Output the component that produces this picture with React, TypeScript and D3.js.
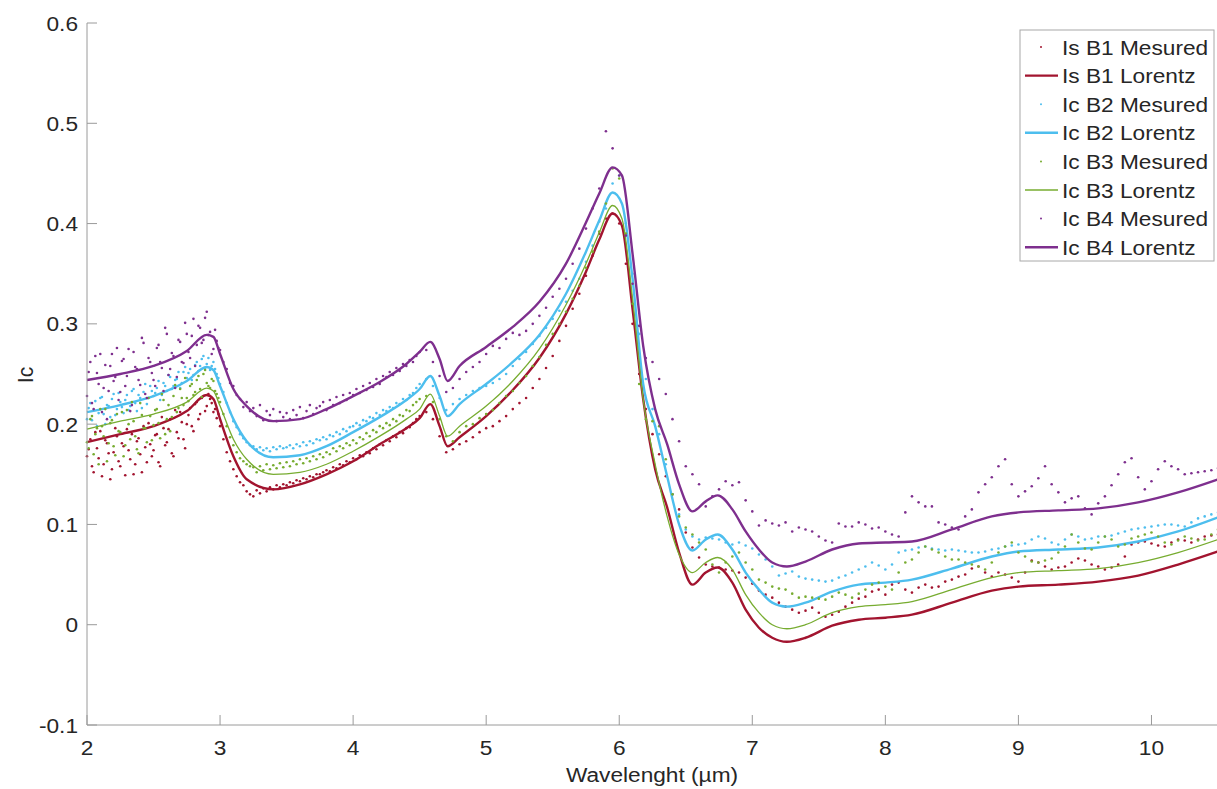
import React from "react";
import * as d3 from "d3";

// ---------------- DATA ----------------
const xTicks = [2, 3, 4, 5, 6, 7, 8, 9, 10];
const yTicks = [-0.1, 0, 0.1, 0.2, 0.3, 0.4, 0.5, 0.6];
const yTickLabels = ["-0.1", "0", "0.1", "0.2", "0.3", "0.4", "0.5", "0.6"];

// Measured wavelengths: 2.000..4.500 step 0.025 (101), then 4.55..10.50 step 0.05 (120)
const measuredX: number[] = [
  ...d3.range(101).map((i) => 2 + i * 0.025),
  ...d3.range(120).map((i) => 4.55 + i * 0.05),
];
// Extra measured samples in the dense short-wavelength region: 2.0125..2.9875 step 0.025 (40)
const measuredXExtra: number[] = d3.range(40).map((i) => 2.0125 + i * 0.025);

const b1Measured = [
  0.168, 0.185, 0.152, 0.176, 0.193, 0.160, 0.181, 0.145, 0.172, 0.188,
  0.158, 0.178, 0.195, 0.165, 0.150, 0.183, 0.170, 0.198, 0.162, 0.180,
  0.174, 0.190, 0.158, 0.196, 0.182, 0.205, 0.168, 0.192, 0.212, 0.185,
  0.200, 0.216, 0.193, 0.222, 0.210, 0.228, 0.218, 0.225, 0.212, 0.206,
  0.198, 0.185, 0.172, 0.163, 0.155, 0.148, 0.142, 0.139, 0.133, 0.130,
  0.128, 0.134, 0.131, 0.136, 0.133, 0.137, 0.135, 0.139, 0.137, 0.140,
  0.139, 0.142, 0.141, 0.144, 0.143, 0.146, 0.145, 0.148, 0.147, 0.150,
  0.150, 0.152, 0.154, 0.153, 0.157, 0.156, 0.160, 0.159, 0.163, 0.162,
  0.166, 0.165, 0.169, 0.168, 0.172, 0.171, 0.176, 0.175, 0.180, 0.179,
  0.184, 0.183, 0.188, 0.187, 0.192, 0.191, 0.196, 0.197, 0.201, 0.205,
  0.208,
  0.212, 0.205, 0.188, 0.172, 0.175, 0.180, 0.183, 0.187, 0.192, 0.196,
  0.198, 0.203, 0.208, 0.215, 0.221, 0.226, 0.236, 0.245, 0.256, 0.268,
  0.283, 0.298, 0.315, 0.330, 0.348, 0.368, 0.390, 0.405, 0.410, 0.400,
  0.360, 0.300, 0.250, 0.215, 0.190, 0.170, 0.148, 0.130, 0.115, 0.092,
  0.077, 0.067, 0.060, 0.058, 0.057, 0.055, 0.054, 0.052, 0.047, 0.041,
  0.034, 0.030, 0.027, 0.022, 0.018, 0.015, 0.012, 0.014, 0.017, 0.012,
  0.008, 0.010, 0.013, 0.018, 0.022, 0.026, 0.028, 0.033, 0.035, 0.030,
  0.040, 0.042, 0.035, 0.032, 0.037, 0.040, 0.037, 0.038, 0.043, 0.045,
  0.048, 0.050, 0.056, 0.058, 0.052, 0.048, 0.052, 0.050, 0.047, 0.043,
  0.052, 0.064, 0.062, 0.058, 0.055, 0.057, 0.058, 0.062, 0.066, 0.064,
  0.060, 0.058, 0.055, 0.057, 0.060, 0.068, 0.080, 0.082, 0.083, 0.081,
  0.079, 0.078, 0.082, 0.085, 0.084, 0.082, 0.085, 0.088, 0.089, 0.090,
];
const b1MeasuredExtra = [
  0.175, 0.158, 0.192, 0.166, 0.148, 0.184, 0.171, 0.155, 0.196, 0.163,
  0.181, 0.149, 0.174, 0.190, 0.160, 0.186, 0.152, 0.177, 0.201, 0.168,
  0.189, 0.162, 0.207, 0.179, 0.195, 0.171, 0.214, 0.186, 0.202, 0.176,
  0.209, 0.198, 0.220, 0.205, 0.226, 0.213, 0.230, 0.221, 0.215, 0.210,
];

const b2Measured = [
  0.205, 0.221, 0.214, 0.198, 0.226, 0.210, 0.219, 0.207, 0.230, 0.215,
  0.222, 0.211, 0.229, 0.218, 0.235, 0.213, 0.226, 0.232, 0.220, 0.238,
  0.228, 0.236, 0.224, 0.241, 0.233, 0.247, 0.238, 0.245, 0.236, 0.252,
  0.246, 0.255, 0.249, 0.262, 0.258, 0.268, 0.260, 0.254, 0.262, 0.250,
  0.240, 0.232, 0.221, 0.212, 0.203, 0.197, 0.190, 0.186, 0.182, 0.179,
  0.178, 0.175, 0.177, 0.174, 0.176, 0.173, 0.177, 0.175, 0.178, 0.176,
  0.177, 0.179, 0.176, 0.180, 0.178, 0.182, 0.179, 0.183, 0.181, 0.185,
  0.184, 0.187, 0.185, 0.189, 0.188, 0.192, 0.190, 0.195, 0.193, 0.197,
  0.198, 0.201, 0.199, 0.204, 0.203, 0.207, 0.206, 0.211, 0.209, 0.214,
  0.213, 0.217, 0.216, 0.221, 0.220, 0.225, 0.224, 0.229, 0.231, 0.236,
  0.240,
  0.245, 0.238, 0.226, 0.214, 0.220, 0.225, 0.229, 0.233, 0.236, 0.238,
  0.241, 0.245, 0.250, 0.258, 0.265, 0.272, 0.280, 0.288, 0.296, 0.305,
  0.313, 0.322, 0.333, 0.345, 0.362, 0.378, 0.402, 0.415, 0.440, 0.448,
  0.400, 0.350, 0.290, 0.245, 0.215, 0.190, 0.160, 0.130, 0.110, 0.095,
  0.088, 0.085, 0.087, 0.086, 0.085, 0.082, 0.080, 0.082, 0.079, 0.076,
  0.070, 0.065, 0.058, 0.049, 0.051, 0.053, 0.048, 0.046, 0.045, 0.044,
  0.043, 0.044, 0.047, 0.049, 0.052, 0.055, 0.058, 0.062, 0.059, 0.055,
  0.060, 0.072, 0.074, 0.075, 0.077, 0.078, 0.076, 0.075, 0.074, 0.075,
  0.074, 0.073, 0.072, 0.072, 0.073, 0.075, 0.076, 0.078, 0.079, 0.080,
  0.081, 0.085, 0.088, 0.086, 0.082, 0.080, 0.085, 0.090, 0.088, 0.085,
  0.086, 0.088, 0.088, 0.089, 0.091, 0.093, 0.095, 0.096, 0.097, 0.098,
  0.099, 0.100, 0.100, 0.099, 0.098, 0.102, 0.106, 0.108, 0.110, 0.112,
];
const b2MeasuredExtra = [
  0.216, 0.204, 0.223, 0.211, 0.227, 0.200, 0.218, 0.225, 0.209, 0.231,
  0.217, 0.224, 0.214, 0.233, 0.221, 0.229, 0.216, 0.240, 0.226, 0.233,
  0.231, 0.243, 0.229, 0.238, 0.249, 0.235, 0.244, 0.252, 0.241, 0.257,
  0.251, 0.244, 0.259, 0.253, 0.265, 0.256, 0.266, 0.258, 0.255, 0.246,
];

const b3Measured = [
  0.182, 0.205, 0.170, 0.196, 0.215, 0.188, 0.163, 0.201, 0.178, 0.210,
  0.192, 0.168, 0.214, 0.185, 0.203, 0.175, 0.221, 0.196, 0.182, 0.208,
  0.199, 0.215, 0.186, 0.224, 0.205, 0.193, 0.228, 0.212, 0.235, 0.219,
  0.226, 0.238, 0.229, 0.244, 0.235, 0.250, 0.241, 0.236, 0.243, 0.230,
  0.222, 0.210, 0.198, 0.187, 0.179, 0.172, 0.166, 0.163, 0.160, 0.158,
  0.157, 0.152, 0.158, 0.154, 0.160, 0.155, 0.159, 0.156, 0.161, 0.157,
  0.162, 0.158, 0.163, 0.160, 0.165, 0.161, 0.166, 0.163, 0.168, 0.165,
  0.170, 0.167, 0.172, 0.170, 0.176, 0.173, 0.178, 0.176, 0.181, 0.179,
  0.184, 0.181, 0.187, 0.185, 0.191, 0.188, 0.194, 0.192, 0.198, 0.196,
  0.201, 0.199, 0.205, 0.203, 0.209, 0.208, 0.214, 0.213, 0.219, 0.222,
  0.225,
  0.228, 0.222, 0.205, 0.188, 0.183, 0.192, 0.198, 0.200, 0.206, 0.210,
  0.214, 0.221, 0.228, 0.233, 0.241, 0.248, 0.258, 0.267, 0.279, 0.290,
  0.300, 0.312, 0.325, 0.338, 0.356, 0.372, 0.392, 0.420, 0.455, 0.445,
  0.390, 0.320, 0.240, 0.205, 0.203, 0.198, 0.165, 0.130, 0.108, 0.097,
  0.090, 0.082, 0.075, 0.060, 0.052, 0.062, 0.068, 0.072, 0.062, 0.055,
  0.045, 0.042, 0.038, 0.036, 0.035, 0.031, 0.027, 0.028, 0.027, 0.026,
  0.025, 0.028, 0.032, 0.030, 0.027, 0.031, 0.035, 0.040, 0.042, 0.038,
  0.035, 0.052, 0.062, 0.065, 0.072, 0.078, 0.075, 0.072, 0.068, 0.065,
  0.065, 0.062, 0.060, 0.058, 0.055, 0.062, 0.072, 0.078, 0.082, 0.072,
  0.068, 0.063, 0.062, 0.064, 0.066, 0.072, 0.078, 0.090, 0.082, 0.076,
  0.075, 0.082, 0.088, 0.085, 0.078, 0.080, 0.086, 0.088, 0.090, 0.092,
  0.088, 0.082, 0.080, 0.084, 0.088, 0.086, 0.084, 0.085, 0.090, 0.095,
];
const b3MeasuredExtra = [
  0.176, 0.208, 0.190, 0.160, 0.198, 0.215, 0.181, 0.204, 0.169, 0.193,
  0.212, 0.179, 0.200, 0.222, 0.188, 0.171, 0.209, 0.196, 0.226, 0.184,
  0.214, 0.201, 0.230, 0.190, 0.219, 0.207, 0.239, 0.216, 0.226, 0.246,
  0.223, 0.240, 0.232, 0.248, 0.227, 0.254, 0.238, 0.245, 0.233, 0.226,
];

const b4Measured = [
  0.228, 0.262, 0.215, 0.251, 0.270, 0.236, 0.205, 0.258, 0.243, 0.276,
  0.232, 0.265, 0.248, 0.213, 0.272, 0.255, 0.239, 0.281, 0.226, 0.262,
  0.244, 0.276, 0.262, 0.233, 0.290, 0.255, 0.268, 0.247, 0.282, 0.261,
  0.290, 0.266, 0.305, 0.279, 0.296, 0.284, 0.312, 0.292, 0.275, 0.283,
  0.274, 0.262, 0.255, 0.241, 0.238, 0.229, 0.225, 0.217, 0.222, 0.213,
  0.216, 0.208, 0.219, 0.204, 0.213, 0.209, 0.215, 0.203, 0.212, 0.207,
  0.211, 0.205, 0.214, 0.209, 0.217, 0.206, 0.213, 0.219, 0.210, 0.216,
  0.218, 0.222, 0.214, 0.224, 0.219, 0.227, 0.221, 0.229, 0.224, 0.231,
  0.229, 0.235, 0.231, 0.238, 0.234, 0.241, 0.237, 0.245, 0.240, 0.248,
  0.247, 0.252, 0.249, 0.256, 0.253, 0.260, 0.258, 0.264, 0.262, 0.268,
  0.272,
  0.274, 0.262, 0.248, 0.232, 0.236, 0.245, 0.252, 0.257, 0.262, 0.270,
  0.278, 0.276, 0.285, 0.291, 0.289, 0.293, 0.300, 0.308, 0.316, 0.327,
  0.335, 0.345, 0.360, 0.375, 0.395, 0.415, 0.435, 0.492, 0.475, 0.448,
  0.388, 0.340, 0.298, 0.266, 0.262, 0.245, 0.230, 0.205, 0.183, 0.158,
  0.150, 0.140, 0.118, 0.128, 0.135, 0.143, 0.139, 0.142, 0.124, 0.113,
  0.099, 0.104, 0.101, 0.099, 0.102, 0.093, 0.097, 0.095, 0.093, 0.088,
  0.084, 0.082, 0.101, 0.098, 0.098, 0.102, 0.100, 0.096, 0.097, 0.093,
  0.090, 0.088, 0.112, 0.128, 0.122, 0.118, 0.118, 0.102, 0.100, 0.097,
  0.095, 0.108, 0.115, 0.132, 0.140, 0.147, 0.158, 0.165, 0.140, 0.128,
  0.133, 0.138, 0.146, 0.158, 0.140, 0.132, 0.122, 0.126, 0.128, 0.116,
  0.110, 0.121, 0.128, 0.139, 0.150, 0.162, 0.166, 0.147, 0.135, 0.143,
  0.155, 0.163, 0.158, 0.155, 0.150, 0.151, 0.152, 0.153, 0.154, 0.156,
];
const b4MeasuredExtra = [
  0.252, 0.221, 0.268, 0.240, 0.212, 0.259, 0.233, 0.270, 0.247, 0.224,
  0.263, 0.238, 0.275, 0.219, 0.257, 0.244, 0.286, 0.230, 0.266, 0.251,
  0.238, 0.279, 0.256, 0.296, 0.249, 0.271, 0.236, 0.284, 0.262, 0.301,
  0.272, 0.288, 0.258, 0.298, 0.281, 0.306, 0.289, 0.270, 0.294, 0.276,
];

// Lorentz fits, sampled at these wavelengths
const lineX = [
  2.0, 2.25, 2.5, 2.75, 2.9, 2.95, 3.0, 3.1, 3.2, 3.4,
  3.6, 3.8, 4.0, 4.2, 4.4, 4.5, 4.58, 4.65, 4.71, 4.8,
  5.0, 5.2, 5.4, 5.6, 5.75, 5.85, 5.95, 6.02, 6.1, 6.18,
  6.27, 6.36, 6.45, 6.55, 6.65, 6.74, 6.85, 6.95, 7.05, 7.15,
  7.26, 7.4, 7.6, 7.8, 8.0, 8.2, 8.5, 8.8, 9.0, 9.3,
  9.6, 9.9, 10.2, 10.5,
];

const b1Lorentz = [
  0.182, 0.190, 0.198, 0.213, 0.229, 0.225, 0.205, 0.168, 0.145, 0.135,
  0.140, 0.150, 0.163, 0.180, 0.196, 0.206, 0.220, 0.198, 0.178, 0.187,
  0.208, 0.234, 0.266, 0.310, 0.352, 0.384, 0.410, 0.398, 0.315, 0.225,
  0.155, 0.117, 0.072, 0.040, 0.052, 0.057, 0.042, 0.015, -0.003, -0.013,
  -0.017, -0.013, -0.001, 0.005, 0.007, 0.010, 0.022, 0.034, 0.038, 0.040,
  0.043, 0.049, 0.060, 0.073,
];

const b2Lorentz = [
  0.212, 0.219, 0.228, 0.243, 0.257, 0.254, 0.238, 0.205, 0.183, 0.167,
  0.169, 0.178, 0.192, 0.207, 0.224, 0.235, 0.248, 0.228, 0.208, 0.220,
  0.240, 0.262, 0.289, 0.330, 0.372, 0.403, 0.431, 0.420, 0.345, 0.240,
  0.198, 0.148, 0.100, 0.074, 0.085, 0.090, 0.075, 0.052, 0.035, 0.022,
  0.018, 0.022, 0.033, 0.040, 0.042, 0.045, 0.056, 0.068, 0.073, 0.075,
  0.077, 0.083, 0.093, 0.107,
];

const b3Lorentz = [
  0.195, 0.203, 0.210, 0.222, 0.236, 0.233, 0.218, 0.185, 0.165, 0.150,
  0.152, 0.160, 0.173, 0.188, 0.205, 0.215, 0.230, 0.208, 0.188, 0.198,
  0.218, 0.243, 0.275, 0.319, 0.360, 0.391, 0.418, 0.405, 0.325, 0.225,
  0.160, 0.108, 0.070, 0.052, 0.062, 0.067, 0.055, 0.030, 0.012, 0.000,
  -0.004, 0.000, 0.012, 0.018, 0.020, 0.023, 0.035, 0.047, 0.052, 0.054,
  0.056, 0.062, 0.072, 0.085,
];

const b4Lorentz = [
  0.244, 0.250, 0.258, 0.273, 0.289, 0.287, 0.270, 0.235, 0.218, 0.203,
  0.205, 0.215, 0.228, 0.242, 0.260, 0.272, 0.282, 0.265, 0.243, 0.258,
  0.277, 0.297, 0.322, 0.360, 0.401, 0.430, 0.456, 0.448, 0.370, 0.278,
  0.215, 0.180, 0.140, 0.113, 0.123, 0.129, 0.115, 0.093, 0.075, 0.062,
  0.058, 0.063, 0.075, 0.081, 0.082, 0.083, 0.095, 0.108, 0.112, 0.114,
  0.116, 0.122, 0.132, 0.145,
];

const seriesNames = [
  "Is B1 Mesured", "Is B1 Lorentz",
  "Ic B2 Mesured", "Ic B2 Lorentz",
  "Ic B3 Mesured", "Ic B3 Lorentz",
  "Ic B4 Mesured", "Ic B4 Lorentz",
];

// ---------------- STYLE ----------------
const COLORS = ["#A2142F", "#4DBEEE", "#77AC30", "#7E2F8E"];
const LINE_W = [2.4, 2.4, 1.3, 2.4];
const FONT = "'Liberation Sans', Arial, Helvetica, sans-serif";
const TXT = "#262626";
const AXIS = "#9a9a9a";
const SX = 1.08;

const W = 1217;
const H = 789;

const T = ({ x, y, anchor = "start", size = 21, children }: any) => (
  <text
    transform={`translate(${x},${y}) scale(${SX},1)`}
    textAnchor={anchor}
    fontFamily={FONT}
    fontSize={size}
    fill={TXT}
  >
    {children}
  </text>
);

export default function App() {
  const x = d3.scaleLinear().domain([2, 10.5]).range([87, 1218]);
  const y = d3.scaleLinear().domain([-0.1, 0.6]).range([725, 23]);

  const measured = [b1Measured, b2Measured, b3Measured, b4Measured];
  const measuredExtra = [b1MeasuredExtra, b2MeasuredExtra, b3MeasuredExtra, b4MeasuredExtra];
  const fits = [b1Lorentz, b2Lorentz, b3Lorentz, b4Lorentz];

  const line = d3
    .line<number>()
    .x((_, i) => x(lineX[i]))
    .y((d) => y(d))
    .curve(d3.curveMonotoneX);

  const legendTop = 47;
  const legendStep = 28.6;

  return (
    <svg
      width={W}
      height={H}
      style={{ position: "absolute", left: 0, top: 0, background: "#fff" }}
    >
      <rect x={0} y={0} width={W} height={H} fill="#fff" />

      {/* data */}
      {[0, 1, 2, 3].map((s) => (
        <g key={s}>
          <g fill={COLORS[s]}>
            {measured[s].map((v, i) =>
              i < measuredX.length ? (
                <circle key={i} cx={x(measuredX[i])} cy={y(v)} r={1.3} />
              ) : null
            )}
            {measuredExtra[s].map((v, i) =>
              i < measuredXExtra.length ? (
                <circle key={"e" + i} cx={x(measuredXExtra[i])} cy={y(v)} r={1.3} />
              ) : null
            )}
          </g>
          <path
            d={line(fits[s]) || ""}
            fill="none"
            stroke={COLORS[s]}
            strokeWidth={LINE_W[s]}
            strokeLinejoin="round"
          />
        </g>
      ))}

      {/* axes */}
      <line x1={x(2)} x2={W} y1={y(-0.1)} y2={y(-0.1)} stroke={AXIS} strokeWidth={1} />
      <line x1={x(2)} x2={x(2)} y1={y(-0.1)} y2={y(0.6)} stroke={AXIS} strokeWidth={1} />
      {xTicks.map((t) => (
        <g key={"xt" + t}>
          <line x1={x(t)} x2={x(t)} y1={y(-0.1)} y2={y(-0.1) - 10} stroke={AXIS} />
          <T x={x(t)} y={y(-0.1) + 30} anchor="middle">{String(t)}</T>
        </g>
      ))}
      {yTicks.map((t, i) => (
        <g key={"yt" + i}>
          <line x1={x(2)} x2={x(2) + 10} y1={y(t)} y2={y(t)} stroke={AXIS} />
          <T x={78} y={y(t) + 7.5} anchor="end">{yTickLabels[i]}</T>
        </g>
      ))}
      <T x={652} y={782} anchor="middle">Wavelenght (µm)</T>
      <text
        transform={`translate(33,375) rotate(-90) scale(1,${SX})`}
        textAnchor="middle"
        fontFamily={FONT}
        fontSize={21}
        fill={TXT}
      >
        Ic
      </text>

      {/* legend */}
      <rect x={1020} y={30} width={194} height={231} fill="#fff" stroke="#a8a8a8" strokeWidth={1} />
      {seriesNames.map((name, i) => {
        const s = Math.floor(i / 2);
        const cy = legendTop + i * legendStep;
        return (
          <g key={name}>
            {i % 2 === 0 ? (
              <circle cx={1041} cy={cy} r={1} fill={COLORS[s]} />
            ) : (
              <line x1={1025} x2={1058} y1={cy} y2={cy} stroke={COLORS[s]} strokeWidth={LINE_W[s]} />
            )}
            <T x={1062} y={cy + 7.5}>{name}</T>
          </g>
        );
      })}
    </svg>
  );
}
